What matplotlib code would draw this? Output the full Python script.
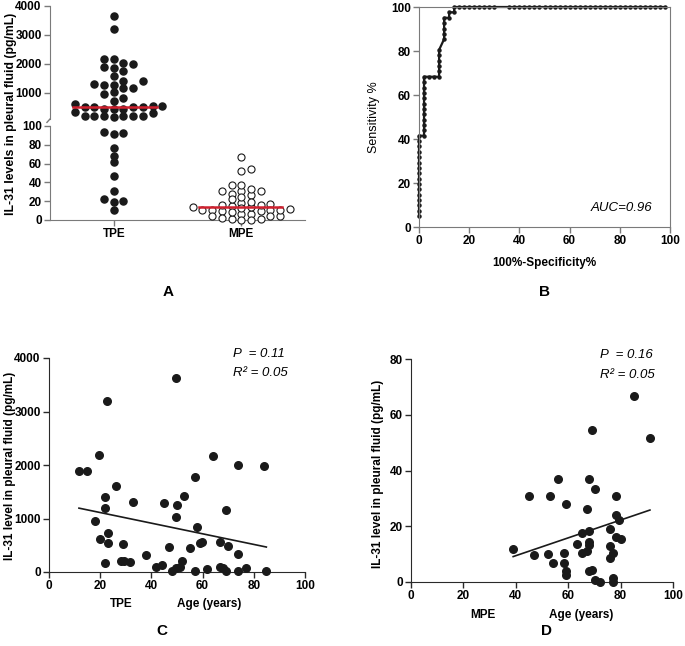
import numpy as np
import matplotlib
matplotlib.use("Agg")
import matplotlib.pyplot as plt

plt.rcParams["font.family"] = ["Liberation Sans", "DejaVu Sans"]
plt.rcParams["font.weight"] = "bold"

# ---- data ----
# panel A, IL-31 in TPE (pg/mL)
tpe_il31 = [3644, 3195, 2184, 2172, 2023, 1989, 1897, 1874, 1770, 1598, 1414, 1414,
            1310, 1287, 1276, 1184, 1161, 1034, 966, 839, 736, 621, 552, 552, 529,
            529, 529, 506, 460, 460, 448, 333, 299, 207, 207, 207, 207, 207, 207, 161,
            92.9, 91.1, 93.3, 76.2, 68.1, 61.3, 46.5, 30.9, 20.6, 22.0, 19.1, 11.0]

# panel C, TPE age vs IL-31
tpe_age = [11.7, 15, 19.7, 22.8, 22, 22, 26, 18, 19.8, 23, 23, 22, 29, 28, 29.2, 31.8,
           33, 37.8, 41.9, 44, 44.9, 46.8, 48, 49.8, 49.9, 49.8, 49.8, 51, 51.9, 52.8,
           54.9, 57, 57, 57.9, 58.9, 59.9, 61.9, 63.9, 66.8, 66.8, 67.8, 69, 69, 69.9,
           73.8, 73.8, 73.8, 76.9, 83.8, 84.9]
tpe_level = [1891, 1885, 2184, 3198, 1406, 1194, 1605, 958, 616, 722, 541, 168, 523, 212,
             212, 193, 1313, 311, 93, 137, 1294, 460, 25, 3633, 1257, 1026, 68, 93, 212,
             1418, 442, 1779, 25, 834, 535, 554, 50, 2159, 566, 93, 68, 25, 1157, 479,
             2009, 330, 25, 68, 1978, 12]

# panel D, MPE age vs IL-31 (also the MPE column of panel A)
mpe_age = [39, 45.1, 47.1, 52.1, 53.1, 54.1, 56.2, 58.3, 58.3, 59.2, 59.2, 59.2, 63.2,
           65.2, 65.2, 67.1, 67.1, 68.1, 68.1, 68.1, 68.1, 68.1, 69.1, 69.1, 70.1, 70.1,
           72.2, 76.1, 76.1, 76.1, 77.2, 77.2, 77.2, 78.1, 78.1, 78.1, 79.2, 80.2, 85.3,
           91.2]
mpe_level = [12.0, 30.8, 9.7, 9.9, 30.8, 6.9, 36.8, 10.3, 6.9, 28.0, 4.0, 2.4, 13.8,
             17.5, 10.3, 26.2, 11.1, 18.2, 36.8, 14.5, 13.3, 3.8, 54.5, 4.4, 33.5, 0.7,
             0.0, 18.9, 12.8, 8.5, 10.3, 1.4, 0.0, 30.8, 24.0, 16.3, 22.2, 15.6, 66.6,
             51.6]

# panel B, ROC curve (100% - specificity, sensitivity)
roc_fpr = [0, 0, 0, 0, 0, 0, 0, 0, 0, 0, 0, 0, 0, 0, 0, 0,
           2, 2, 2, 2, 2, 2, 2, 2, 2, 2, 2, 2,
           4, 6, 8, 8, 8, 8, 8, 8,
           10, 10, 10, 10, 10, 12, 12, 14, 14,
           16, 18, 20, 22, 24, 26, 28, 30, 36, 38, 40, 42, 44, 46, 48, 50, 52, 54,
           56, 58, 60, 62, 64, 66, 68, 70, 72, 74, 76, 78, 80, 82, 84, 86, 88, 90,
           92, 94, 96, 98]
roc_tpr = [4.9, 7.3, 9.8, 12.2, 14.6, 17.1, 19.5, 22.0, 24.4, 26.8, 29.3, 31.7, 34.1,
           36.6, 39.0, 41.5,
           41.5, 43.9, 46.3, 48.8, 51.2, 53.7, 56.1, 58.5, 61.0, 63.4, 65.9, 68.3,
           68.3, 68.3, 68.3, 70.7, 73.2, 75.6, 78.0, 80.5,
           85.4, 87.8, 90.2, 92.7, 95.1, 95.1, 97.6, 97.6, 100,
           100, 100, 100, 100, 100, 100, 100, 100, 100, 100, 100, 100, 100, 100, 100,
           100, 100, 100, 100, 100, 100, 100, 100, 100, 100, 100, 100, 100, 100, 100,
           100, 100, 100, 100, 100, 100, 100, 100, 100, 100]
auc_text = "AUC=0.96"
stats_c = ("0.11", "0.05")
stats_d = ("0.16", "0.05")

W, H = 685, 646
fig = plt.figure(figsize=(W / 100, H / 100), dpi=100)


def box(l, t, r, b):
    return [l / W, 1 - b / H, (r - l) / W, (b - t) / H]


def swarm(vals, px_per_unit, step_px=9.7, dmin=7.0):
    vals = np.asarray(vals, float)
    placed = []
    slots = np.zeros(len(vals))
    cands = [0]
    for k in range(1, 12):
        cands += [k, -k]
    for i in np.argsort(vals):
        y = vals[i] * px_per_unit
        for s in cands:
            if all(not (ps == s and abs(py - y) < dmin) for py, ps in placed):
                break
        placed.append((y, s))
        slots[i] = s
    return slots * step_px


grey = "#7a7a7a"
tick_kw = dict(labelsize=8.5, length=4, width=1, pad=2)
lab_kw = dict(fontsize=8.5, fontweight="bold")

# ---- panel A (broken y axis) ----
ax_hi = fig.add_axes(box(50, 6, 305, 119))
ax_lo = fig.add_axes(box(50, 126, 305, 220))
px_per_x = 255 / 2.0
tpe = np.array(tpe_il31)
mpe = np.array(mpe_level)
hi = tpe[tpe >= 100]
lo = tpe[tpe < 100]
ax_hi.scatter(0.5 + swarm(hi, 113 / 3900) / px_per_x, hi, s=26, color="#1a1a1a",
              clip_on=False, zorder=3)
ax_lo.scatter(0.5 + swarm(lo, 94 / 100, dmin=5.5) / px_per_x, lo, s=26,
              color="#1a1a1a", clip_on=False, zorder=3)
ax_lo.scatter(1.5 + swarm(mpe, 94 / 100, dmin=5.0) / px_per_x, mpe, s=26,
              facecolor="white", edgecolor="#1a1a1a", linewidth=0.8, clip_on=False,
              zorder=3)
ax_hi.plot([0.18, 0.84], [np.median(tpe)] * 2, color="#d0202e", lw=1.8, zorder=4)
ax_lo.plot([1.17, 1.82], [np.median(mpe)] * 2, color="#d0202e", lw=1.8, zorder=4)

for ax in (ax_hi, ax_lo):
    ax.set_xlim(0, 2)
    ax.spines[["top", "right"]].set_visible(False)
    ax.spines["left"].set_color(grey)
    ax.spines["bottom"].set_color(grey)
    ax.tick_params(colors=grey, labelcolor="black", **tick_kw)
ax_hi.spines["bottom"].set_visible(False)
ax_hi.set_xticks([])
ax_hi.set_ylim(100, 4000)
ax_hi.set_yticks([1000, 2000, 3000, 4000])
ax_hi.plot([0, -0.012], [0, -0.03], transform=ax_hi.transAxes, color=grey, lw=1,
           clip_on=False)
ax_lo.set_ylim(0, 100)
ax_lo.set_yticks([0, 20, 40, 60, 80, 100])
ax_lo.set_xticks([0.5, 1.5])
ax_lo.set_xticklabels(["TPE", "MPE"], fontsize=8.5)
fig.text(11 / W, 1 - 114 / H, "IL-31 levels in pleural fluid (pg/mL)", rotation=90,
         ha="center", va="center", fontsize=8.8, fontweight="bold")

# ---- panel B (ROC) ----
axb = fig.add_axes(box(419, 7, 670, 227))
axb.plot(roc_fpr, roc_tpr, color="#1a1a1a", lw=1.6, marker="o", ms=2.2,
         clip_on=False)
axb.set_xlim(0, 100)
axb.set_ylim(0, 100)
axb.set_xticks(range(0, 101, 20))
axb.set_yticks(range(0, 101, 20))
for sp in axb.spines.values():
    sp.set_color(grey)
axb.tick_params(colors=grey, labelcolor="black", **tick_kw)
axb.set_xlabel("100%-Specificity%", labelpad=7, **lab_kw)
axb.set_ylabel("Sensitivity %", fontsize=9, fontweight="normal", labelpad=8)
axb.text(93, 6, auc_text, ha="right", va="bottom", fontsize=9.5, style="italic",
         fontweight="normal")


# ---- panels C and D (age scatter with fit) ----
def age_panel(rect, ages, levels, ymax, yticks, stats, group, gx, ax_age):
    ax = fig.add_axes(rect)
    ages = np.array(ages)
    levels = np.array(levels)
    ax.scatter(ages, levels, s=30, color="#1a1a1a", clip_on=False, zorder=3)
    k, b = np.polyfit(ages, levels, 1)
    xs = np.array([ages.min(), ages.max()])
    ax.plot(xs, k * xs + b, color="#1a1a1a", lw=1.2)
    ax.set_xlim(0, 100)
    ax.set_ylim(0, ymax)
    ax.set_xticks(range(0, 101, 20))
    ax.set_yticks(yticks)
    ax.spines[["top", "right"]].set_visible(False)
    for sp in ("left", "bottom"):
        ax.spines[sp].set_color("#2a2a2a")
    ax.tick_params(colors="#2a2a2a", labelcolor="black", **tick_kw)
    ax.text(0.72, 1.02, "P  = " + stats[0], transform=ax.transAxes, fontsize=9.5,
            style="italic", fontweight="normal", va="center")
    ax.text(0.72, 0.93, "R\u00b2 = " + stats[1], transform=ax.transAxes, fontsize=9.5,
            style="italic", fontweight="normal", va="center")
    ax.text(gx, -0.15, group, transform=ax.transAxes, ha="center", va="center",
            **lab_kw)
    ax.text(ax_age, -0.15, "Age (years)", transform=ax.transAxes, ha="center",
            va="center", **lab_kw)
    return ax


axc = age_panel(box(49, 358, 305, 572), tpe_age, tpe_level, 4000,
                [0, 1000, 2000, 3000, 4000], stats_c, "TPE", 0.282, 0.627)
fig.text(10 / W, 1 - 466 / H, "IL-31 level in pleural fluid (pg/mL)", rotation=90,
         ha="center", va="center", **lab_kw)
axd = age_panel(box(411, 359, 673, 582), mpe_age, mpe_level, 80,
                [0, 20, 40, 60, 80], stats_d, "MPE", 0.275, 0.649)
fig.text(378 / W, 1 - 474 / H, "IL-31 level in pleural fluid (pg/mL)", rotation=90,
         ha="center", va="center", **lab_kw)

for letter, x, y in [("A", 168, 292), ("B", 545, 292), ("C", 162, 631), ("D", 546, 631)]:
    fig.text(x / W, 1 - y / H, letter, ha="center", va="center", fontsize=11,
             fontweight="bold")

fig.savefig("out.png", dpi=100)
